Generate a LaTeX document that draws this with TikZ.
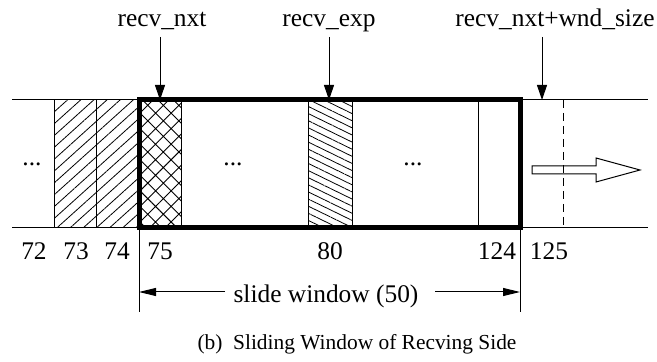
\documentclass[tikz,border=0pt]{standalone}
\usepackage{fontspec}
\setmainfont{Liberation Serif}
\usetikzlibrary{arrows.meta,patterns.meta,calc,positioning}

\begin{document}
\begin{tikzpicture}[x=0.5pt,y=-0.5pt,
  every node/.style={font=\fontsize{12.7}{15}\selectfont},
  thinline/.style={line width=0.5pt},
  ptr/.style={line width=0.5pt,-{Triangle[length=7.5pt,width=5pt]}},
  dim/.style={line width=0.5pt,-{Triangle[length=8.5pt,width=4pt]}},
  acked/.style={thinline,pattern={Lines[angle=42,distance=4.4pt,line width=0.4pt]}}]
\useasboundingbox (0,0) rectangle (657,362);

% receive buffer
\draw[thinline] (12,100) -- (648,100);
\draw[thinline] (12,228) -- (648,228);
\draw[acked] (54,100) rectangle (96,228);
\draw[acked] (96,100) rectangle (139,228);
\draw[thinline,pattern={Hatch[angle=45,distance=5.5pt,line width=0.45pt]}] (139,100) rectangle (181,228);
\draw[thinline,pattern={Lines[angle=-26,distance=3.2pt,line width=0.4pt]}] (308,100) rectangle (352,228);
\draw[thinline] (478,100) -- (478,228);
\draw[thinline,dash pattern=on 4pt off 2.5pt] (563,100) -- (563,228);
\node[anchor=base] (d1) at (32,166) {...};
\node[anchor=base] (d2) at (233,166) {...};
\node[anchor=base] (d3) at (413,166) {...};

% the window itself
\draw[line width=2.5pt] (139,100) rectangle (520,228);

% moving direction
\draw[thinline] (532,166) -- (596,166) -- (596,158) -- (640,170) -- (596,182) -- (596,174) -- (532,174) -- cycle;

% pointers
\coordinate (nxtP) at (160,100);
\coordinate (expP) at (329,100);
\coordinate (limP) at (542,100);
\node[anchor=base] (nxt) at (162,27) {recv\_nxt};
\node[anchor=base] (exp) at (329,27) {recv\_exp};
\node[anchor=base] (lim) at (555,27) {recv\_nxt+wnd\_size};
\draw[ptr] ($(nxt.base -| nxtP)+(0,10)$) -- (nxtP);
\draw[ptr] ($(exp.base -| expP)+(0,10)$) -- (expP);
\draw[ptr] ($(lim.base -| limP)+(0,10)$) -- (limP);

% sequence numbers
\foreach \n/\x in {72/34, 73/76, 74/117, 75/160, 80/330, 124/497, 125/549}
  \node[anchor=base] (n\n) at (\x,260) {\n};

% window size
\draw[thinline] (139,228) -- (139,312);
\draw[thinline] (520,228) -- (520,312);
\node[anchor=base] (sw) at (326,303) {slide window (50)};
\coordinate (wl) at (139,292);
\coordinate (wr) at (520,292);
\coordinate (wli) at (225,292);
\coordinate (wri) at (435,292);
\draw[dim] (wli) -- (wl);
\draw[dim] (wri) -- (wr);

\node[anchor=base,font=\fontsize{10.7}{13}\selectfont] (cap) at (357,350) {(b)\ \ Sliding Window of Recving Side};
\end{tikzpicture}
\end{document}
